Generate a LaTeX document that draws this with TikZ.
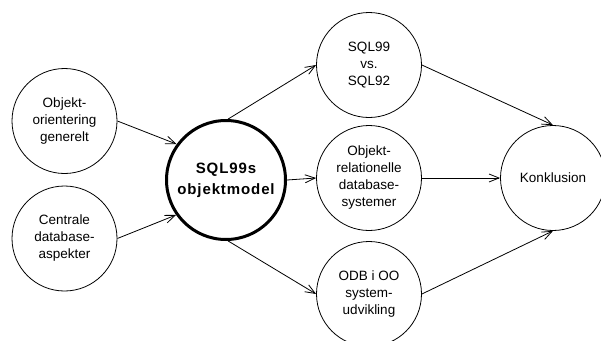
\documentclass[tikz,border=0pt]{standalone}
\usepackage{fontspec}
\setmainfont{Liberation Sans}
\usetikzlibrary{arrows.meta}
\begin{document}
\begin{tikzpicture}[x=1pt,y=-1pt,
  topic/.style={circle,draw,line width=0.8pt,minimum size=105pt,inner sep=0pt,
    align=center,font=\fontsize{13.5}{17}\selectfont},
  core/.style={circle,draw,line width=3pt,minimum size=119pt,inner sep=0pt,
    align=center,font=\fontsize{15}{21}\selectfont\bfseries\addfontfeature{LetterSpace=6}},
  link/.style={line width=0.8pt,-{Straight Barb[length=10pt,width=8pt]}}]
\useasboundingbox (0,0) rectangle (601,340);
\clip (0,0) rectangle (601,340);
% input topics
\node[topic] (oo)  at (64.5,121)  {Objekt-\\orientering\\generelt};
\node[topic] (db)  at (64.5,238.5){Centrale\\database-\\aspekter};
% central topic
\node[core]  (sql) at (226,180)   {SQL99s\\objektmodel};
% derived topics
\node[topic] (cmp) at (369,65)    {SQL99\\vs.\\SQL92};
\node[topic] (ord) at (369,178)   {Objekt-\\relationelle\\database-\\systemer};
\node[topic] (odb) at (369,294)   {ODB i OO\\system-\\udvikling};
% conclusion
\node[topic] (kon) at (553,178)   {Konklusion};
% connectors
\draw[link] (oo.east) -- (sql.144);
\draw[link] (db.east) -- (sql.215);
\draw[link] (sql.88)  -- (cmp.west);
\draw[link] (sql.east) -- (ord.west);
\draw[link] (sql.272) -- (odb.west);
\draw[link] (cmp.east) -- (kon.north);
\draw[link] (ord.east) -- (kon.west);
\draw[link] (odb.east) -- (kon.south);
\end{tikzpicture}
\end{document}
